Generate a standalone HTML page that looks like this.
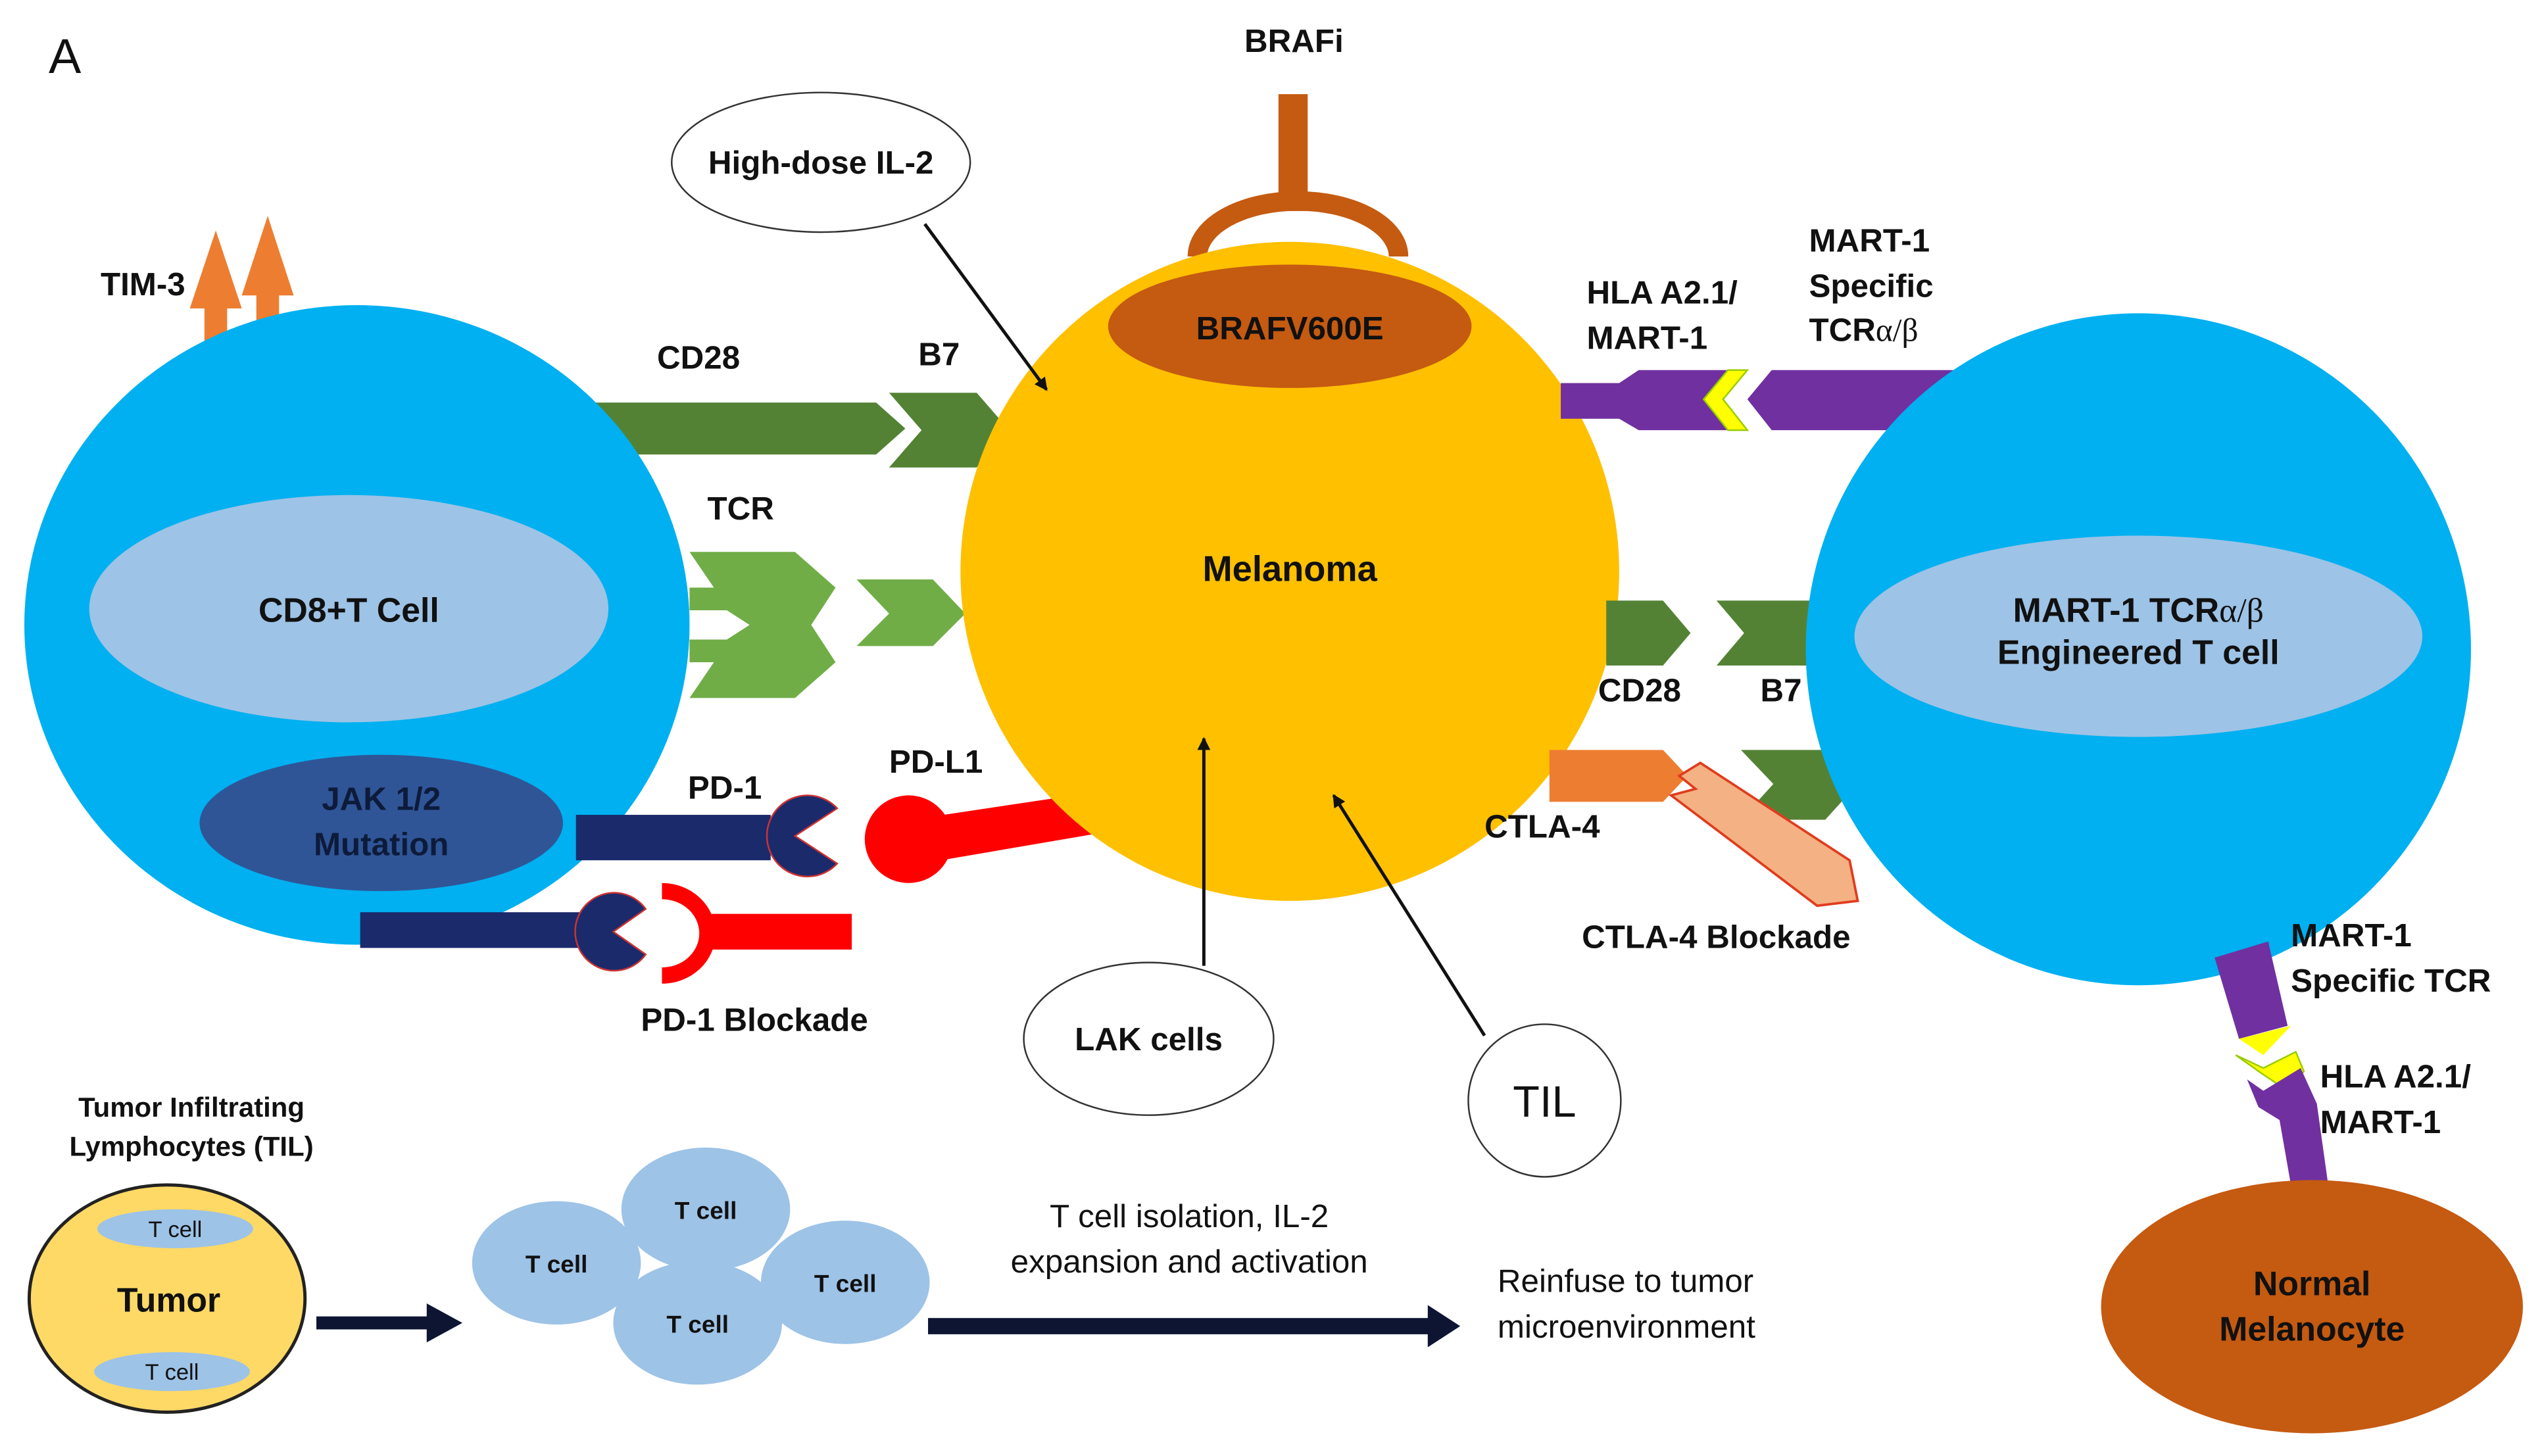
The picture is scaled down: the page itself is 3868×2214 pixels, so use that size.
<!DOCTYPE html>
<html><head><meta charset="utf-8"><style>
html,body{margin:0;padding:0;background:#fff}
svg{display:block}
text{font-family:"Liberation Sans",Arial,sans-serif;font-weight:bold;fill:#111}
</style></head><body>
<svg width="3868" height="2214" viewBox="0 0 1568 897" preserveAspectRatio="none" xmlns="http://www.w3.org/2000/svg">
<defs>
<marker id="ah" markerWidth="8" markerHeight="8" refX="7" refY="4" orient="auto" markerUnits="userSpaceOnUse"><path d="M0,0 L8,4 L0,8 Z" fill="#111"/></marker>
</defs>
<rect width="1568" height="897" fill="#fff"/>
<text x="30" y="45" font-size="30" style="font-weight:normal">A</text>

<!-- TIM-3 arrows -->
<rect x="126" y="185" width="14" height="30" fill="#ED7D31"/>
<polygon points="117,190 133,142 149,190" fill="#ED7D31"/>
<rect x="158" y="175" width="14" height="30" fill="#ED7D31"/>
<polygon points="149,182 165,133 181,182" fill="#ED7D31"/>
<text x="62" y="182" font-size="20">TIM-3</text>

<!-- BRAFi -->
<rect x="788" y="58" width="18" height="72" fill="#C55A11"/>
<path d="M738,158 A58,32 0 0 1 862,158" fill="none" stroke="#C55A11" stroke-width="12"/>
<text x="767" y="32" font-size="20">BRAFi</text>

<!-- green CD28/B7 top -->
<polygon points="365,248 540,248 558,264 540,280 365,280" fill="#548235"/>
<polygon points="548,242 602,242 622,265 602,288 548,288 568,265" fill="#548235"/>
<text x="405" y="227" font-size="20">CD28</text>
<text x="566" y="225" font-size="20">B7</text>

<!-- TCR -->
<polygon points="425,340 490,340 515,362 500,385 515,408 490,430 425,430 440,408 425,408 425,362 440,362" fill="#70AD47"/>
<polygon points="448,376 462,385 448,394 425,394 425,376" fill="#fff"/>
<polygon points="528,357 575,357 595,378 575,398 528,398 548,378" fill="#70AD47"/>
<text x="436" y="320" font-size="20">TCR</text>

<!-- Left cell -->
<ellipse cx="220" cy="385" rx="205" ry="197" fill="#00B0F0"/>
<ellipse cx="215" cy="375" rx="160" ry="70" fill="#9DC3E6"/>
<text x="215" y="383" font-size="21" text-anchor="middle">CD8+T Cell</text>
<ellipse cx="235" cy="507" rx="112" ry="42" fill="#2F5597"/>
<text x="235" y="499" font-size="20" text-anchor="middle" style="fill:#0d1b3a">JAK 1/2</text>
<text x="235" y="527" font-size="20" text-anchor="middle" style="fill:#0d1b3a">Mutation</text>

<!-- PD-1 -->
<rect x="355" y="502" width="120" height="28" fill="#1B2A6B"/>
<path d="M490,515 L516,498 A25,25 0 1 0 516,532 Z" fill="#1B2A6B" stroke="#c33" stroke-width="1"/>
<text x="424" y="492" font-size="20">PD-1</text>
<circle cx="560" cy="517" r="27" fill="#FF0000"/>
<polygon points="575,503 675,488 685,512 580,530" fill="#FF0000"/>
<text x="548" y="476" font-size="20">PD-L1</text>

<!-- blockade -->
<rect x="222" y="562" width="140" height="22" fill="#1B2A6B"/>
<path d="M378,574 L398,560 A24,24 0 1 0 398,588 Z" fill="#1B2A6B" stroke="#c33" stroke-width="1"/>
<path d="M408,549 A28,26 0 0 1 408,601" fill="none" stroke="#FF0000" stroke-width="10"/>
<rect x="432" y="563" width="93" height="22" fill="#FF0000"/>
<text x="395" y="635" font-size="20">PD-1 Blockade</text>

<!-- Melanoma -->
<circle cx="795" cy="352" r="203" fill="#FFC000"/>
<ellipse cx="795" cy="201" rx="112" ry="38" fill="#C55A11"/>
<text x="795" y="209" font-size="20" text-anchor="middle">BRAFV600E</text>
<text x="795" y="358" font-size="22" text-anchor="middle">Melanoma</text>

<!-- right purple -->
<polygon points="962,236 998,236 1010,228 1065,228 1050,246 1065,265 1010,265 998,258 962,258" fill="#7030A0"/>
<polygon points="1065,228 1077,228 1062,246 1077,265 1065,265 1050,246" fill="#FFFF00" stroke="#9c0" stroke-width="1"/>
<polygon points="1092,228 1205,228 1205,265 1092,265 1077,246" fill="#7030A0"/>
<text x="978" y="187" font-size="20">HLA A2.1/</text>
<text x="978" y="215" font-size="20">MART-1</text>
<text x="1115" y="155" font-size="20">MART-1</text>
<text x="1115" y="183" font-size="20">Specific</text>
<text x="1115" y="210" font-size="20">TCR<tspan style="font-family:'Liberation Serif',serif;font-weight:normal">α/β</tspan></text>

<!-- right green -->
<polygon points="990,370 1025,370 1042,390 1025,410 990,410" fill="#548235"/>
<polygon points="1058,370 1120,370 1120,410 1058,410 1075,390" fill="#548235"/>
<polygon points="1073,462 1125,462 1145,483 1125,505 1073,505 1093,483" fill="#548235"/>
<text x="985" y="432" font-size="20">CD28</text>
<text x="1085" y="432" font-size="20">B7</text>

<!-- CTLA-4 -->
<polygon points="955,462 1025,462 1040,478 1025,494 955,494" fill="#ED7D31"/>
<text x="915" y="516" font-size="20">CTLA-4</text>

<!-- Right cell -->
<ellipse cx="1318" cy="400" rx="205" ry="207" fill="#00B0F0"/>
<polygon points="1035,478 1048,470 1140,530 1145,555 1120,558 1030,490 1045,486" fill="#F4B183" stroke="#E03C1E" stroke-width="1.5"/>
<ellipse cx="1318" cy="392" rx="175" ry="62" fill="#9DC3E6"/>
<text x="1318" y="383" font-size="21" text-anchor="middle">MART-1 TCR<tspan style="font-family:'Liberation Serif',serif;font-weight:normal">α/β</tspan></text>
<text x="1318" y="409" font-size="21" text-anchor="middle">Engineered T cell</text>
<text x="975" y="584" font-size="20">CTLA-4 Blockade</text>

<!-- bottom right purple -->
<polygon points="1365,590 1398,580 1410,632 1380,640" fill="#7030A0"/>
<polygon points="1380,640 1412,632 1395,650" fill="#FFFF00"/>
<polygon points="1378,650 1395,658 1415,648 1420,660 1410,672 1395,662" fill="#FFFF00" stroke="#9c0" stroke-width="1"/>
<polygon points="1385,665 1395,672 1418,658 1428,680 1435,730 1412,730 1405,690 1392,682" fill="#7030A0"/>
<text x="1412" y="583" font-size="20">MART-1</text>
<text x="1412" y="611" font-size="20">Specific TCR</text>
<text x="1430" y="670" font-size="20">HLA A2.1/</text>
<text x="1430" y="698" font-size="20">MART-1</text>
<ellipse cx="1425" cy="805" rx="130" ry="78" fill="#C55A11"/>
<text x="1425" y="798" font-size="21" text-anchor="middle">Normal</text>
<text x="1425" y="826" font-size="21" text-anchor="middle">Melanocyte</text>

<!-- callouts -->
<ellipse cx="506" cy="100" rx="92" ry="43" fill="#fff" stroke="#333" stroke-width="1"/>
<text x="506" y="107" font-size="20" text-anchor="middle">High-dose IL-2</text>
<line x1="570" y1="138" x2="645" y2="240" stroke="#111" stroke-width="2" marker-end="url(#ah)"/>
<ellipse cx="708" cy="640" rx="77" ry="47" fill="#fff" stroke="#333" stroke-width="1"/>
<text x="708" y="647" font-size="20" text-anchor="middle">LAK cells</text>
<line x1="742" y1="595" x2="742" y2="455" stroke="#111" stroke-width="2" marker-end="url(#ah)"/>
<circle cx="952" cy="678" r="47" fill="#fff" stroke="#333" stroke-width="1"/>
<text x="952" y="688" font-size="27" text-anchor="middle" style="font-weight:normal">TIL</text>
<line x1="915" y1="638" x2="822" y2="490" stroke="#111" stroke-width="2" marker-end="url(#ah)"/>

<!-- bottom TIL -->
<text x="118" y="688" font-size="17" text-anchor="middle">Tumor Infiltrating</text>
<text x="118" y="712" font-size="17" text-anchor="middle">Lymphocytes (TIL)</text>
<ellipse cx="103" cy="800" rx="85" ry="70" fill="#FFD966" stroke="#222" stroke-width="2"/>
<ellipse cx="108" cy="757" rx="48" ry="12" fill="#9DC3E6"/>
<ellipse cx="106" cy="845" rx="48" ry="12" fill="#9DC3E6"/>
<text x="108" y="762" font-size="14" text-anchor="middle" style="font-weight:normal">T cell</text>
<text x="106" y="850" font-size="14" text-anchor="middle" style="font-weight:normal">T cell</text>
<text x="104" y="808" font-size="21" text-anchor="middle">Tumor</text>
<rect x="195" y="811" width="70" height="8" fill="#0d1533"/>
<polygon points="263,803 285,815 263,827" fill="#0d1533"/>
<ellipse cx="343" cy="778" rx="52" ry="38" fill="#9DC3E6"/>
<ellipse cx="435" cy="745" rx="52" ry="38" fill="#9DC3E6"/>
<ellipse cx="521" cy="790" rx="52" ry="38" fill="#9DC3E6"/>
<ellipse cx="430" cy="815" rx="52" ry="38" fill="#9DC3E6"/>
<text x="343" y="784" font-size="15" text-anchor="middle">T cell</text>
<text x="435" y="751" font-size="15" text-anchor="middle">T cell</text>
<text x="521" y="796" font-size="15" text-anchor="middle">T cell</text>
<text x="430" y="821" font-size="15" text-anchor="middle">T cell</text>
<rect x="572" y="812" width="310" height="10" fill="#0d1533"/>
<polygon points="880,804 900,817 880,830" fill="#0d1533"/>
<text x="733" y="756" font-size="20" text-anchor="middle" style="font-weight:normal">T cell isolation, IL-2</text>
<text x="733" y="784" font-size="20" text-anchor="middle" style="font-weight:normal">expansion and activation</text>
<text x="923" y="796" font-size="20" style="font-weight:normal">Reinfuse to tumor</text>
<text x="923" y="824" font-size="20" style="font-weight:normal">microenvironment</text>
</svg>
</body></html>
